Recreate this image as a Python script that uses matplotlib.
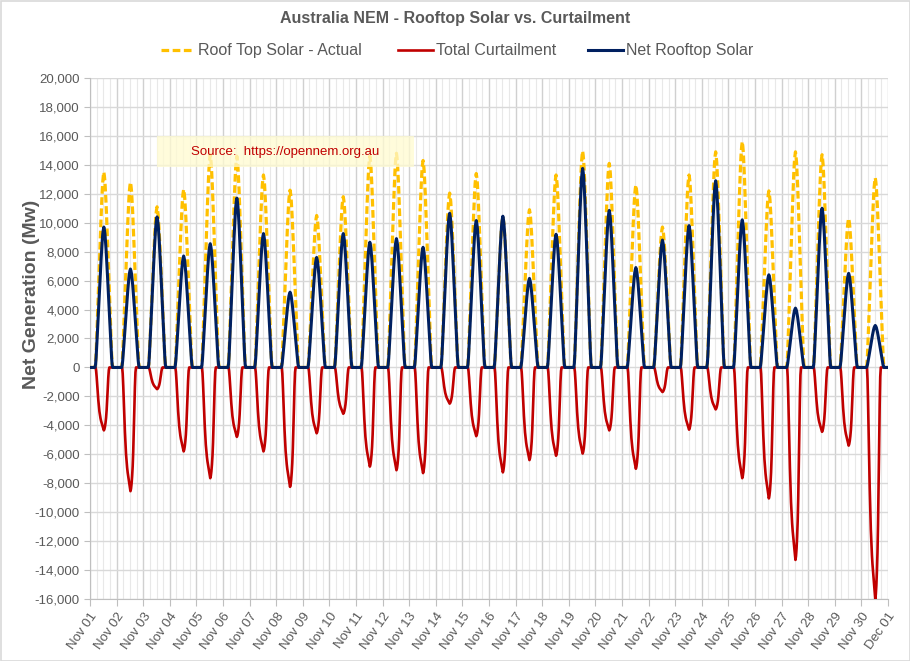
import numpy as np
import matplotlib
matplotlib.use("Agg")
import matplotlib.pyplot as plt
from matplotlib.patches import Rectangle
from matplotlib.lines import Line2D
from matplotlib.ticker import FuncFormatter, MultipleLocator

plt.rcParams['font.family'] = ['Liberation Sans', 'DejaVu Sans']

# ---- data ----
day_labels = ["Nov %02d" % d for d in range(1, 31)] + ["Dec 01"]
series_names = ['Roof Top Solar - Actual', 'Total Curtailment', 'Net Rooftop Solar']

# daily peak of rooftop solar (MW)
solar_peak = [13500, 12800, 11100, 12300, 14700, 14600, 13300, 12250, 10500, 11800,
              14600, 14800, 14300, 12050, 13400, 10400, 10900, 13300, 14950, 14100,
              12600, 9700, 13300, 14900, 15600, 12200, 14900, 14700, 10300, 13100]
# daily peak of net rooftop solar (MW)
net_peak = [9700, 6800, 10400, 7700, 8550, 11700, 9250, 5200, 7600, 9250,
            8650, 8900, 8300, 10650, 10150, 10450, 6150, 9200, 13750, 10850,
            6900, 8800, 9800, 12900, 10200, 6400, 4100, 11000, 6500, 2900]
# daily minimum of total curtailment (MW)
curt_min = [-4350, -8550, -1500, -5800, -7650, -4800, -5800, -8250, -4550, -3200,
            -6850, -7100, -7300, -2500, -4750, -7250, -6400, -6100, -5950, -4350,
            -7000, -1700, -4300, -2900, -7650, -9050, -13300, -4450, -5400, -16000]

# typical half-hourly shape of a day (fraction of daily peak), 48 slots
solar_profile = [0, 0, 0, 0, 0, 0, 0, 0, 0, 0,
                 0.02, 0.07, 0.14, 0.22, 0.30, 0.38, 0.46, 0.54, 0.62, 0.70,
                 0.77, 0.84, 0.90, 0.95, 0.98, 1.00, 0.98, 0.95, 0.90, 0.84,
                 0.77, 0.70, 0.62, 0.54, 0.46, 0.38, 0.30, 0.22, 0.14, 0.07,
                 0.02, 0, 0, 0, 0, 0, 0, 0]
curt_profile = [0, 0, 0, 0, 0, 0, 0, 0, 0, 0,
                0, 0.05, 0.15, 0.28, 0.40, 0.52, 0.62, 0.70, 0.76, 0.81,
                0.85, 0.88, 0.91, 0.94, 0.97, 1.00, 0.98, 0.94, 0.88, 0.80,
                0.68, 0.52, 0.34, 0.16, 0.04, 0, 0, 0, 0, 0,
                0, 0, 0, 0, 0, 0, 0, 0]

# ---- build series ----
n_days = len(solar_peak)
slots = len(solar_profile)
x = []
solar, curt, net = [], [], []
for d in range(n_days):
    for i in range(slots):
        x.append(d + i / slots)
        solar.append(solar_peak[d] * solar_profile[i])
        net.append(net_peak[d] * solar_profile[i])
        curt.append(curt_min[d] * curt_profile[i])
x.append(n_days); solar.append(0); net.append(0); curt.append(0)

# ---- figure ----
W, H = 910, 661
fig = plt.figure(figsize=(W / 100, H / 100), dpi=100)
ax = fig.add_axes([90 / W, 1 - 599 / H, (888 - 90) / W, (599 - 78) / H])

grey_txt = '#595959'
ax.set_xlim(0, n_days)
ax.set_ylim(-16000, 20000)
ax.yaxis.set_major_locator(MultipleLocator(2000))
ax.yaxis.set_major_formatter(FuncFormatter(lambda v, p: f"{int(v):,}"))
ax.set_xticks(range(n_days + 1))
ax.set_xticklabels(day_labels, rotation=55, ha='right', rotation_mode='anchor',
                   fontsize=9.5, color=grey_txt)
ax.set_xticks(np.arange(0, n_days, 0.25), minor=True)
ax.tick_params(axis='y', labelsize=9.5, labelcolor=grey_txt, color='#bfbfbf', length=4)
ax.tick_params(axis='x', which='major', color='#bfbfbf', length=5, pad=3)
ax.tick_params(axis='x', which='minor', length=0)

ax.grid(True, axis='y', color='#d9d9d9', lw=1.0)
ax.grid(True, axis='x', which='major', color='#d0d0d0', lw=1.0)
ax.grid(True, axis='x', which='minor', color='#e8e8e8', lw=0.8)
ax.set_axisbelow(True)
for s in ['top', 'right']:
    ax.spines[s].set_visible(False)
for s in ['left', 'bottom']:
    ax.spines[s].set_color('#bfbfbf')

c_solar, c_curt, c_net = '#FFC000', '#C00000', '#002060'
ax.plot(x, solar, color=c_solar, lw=2.3, dashes=(2.4, 1.1), zorder=3, label=series_names[0])
ax.plot(x, curt, color=c_curt, lw=1.9, zorder=4, label=series_names[1])
ax.plot(x, net, color=c_net, lw=2.2, zorder=5, label=series_names[2])

ax.set_ylabel('Net Generation (Mw)', fontsize=14, fontweight='bold', color=grey_txt)
ax.yaxis.set_label_coords(-0.063, 0.585)

fig.text(455 / W, 1 - 18 / H, 'Australia NEM - Rooftop Solar vs. Curtailment',
         ha='center', va='center', fontsize=11.5, fontweight='bold', color=grey_txt)

# legend row (handles + texts on a common baseline)
leg_y = 1 - 50 / H
leg_items = [(161, 193, 198, dict(color=c_solar, lw=2.3, dashes=(2.4, 1.1))),
             (398, 433, 436, dict(color=c_curt, lw=1.9)),
             (588, 623, 626, dict(color=c_net, lw=2.2))]
for (x0, x1, xt, kw), name in zip(leg_items, series_names):
    fig.add_artist(Line2D([x0 / W, x1 / W], [leg_y, leg_y], transform=fig.transFigure, **kw))
    fig.text(xt / W, leg_y - 5 / H, name, ha='left', va='baseline', fontsize=11.5, color=grey_txt)

# source box
fig.patches.append(Rectangle((157 / W, 1 - 167 / H), (414 - 157) / W, (167 - 136) / H,
                             transform=fig.transFigure, facecolor='#fffbd0', alpha=0.75,
                             edgecolor='none', zorder=10))
fig.text(285 / W, 1 - 152 / H, 'Source:  https://opennem.org.au', ha='center', va='center',
         fontsize=9.5, color='#C00000', zorder=11)

# figure border
fig.patches.append(Rectangle((0.5 / W, 0.5 / H), 1 - 1 / W, 1 - 1 / H, transform=fig.transFigure,
                             facecolor='none', edgecolor='#d9d9d9', lw=1.2, zorder=20))

fig.savefig('out.png', dpi=100)
